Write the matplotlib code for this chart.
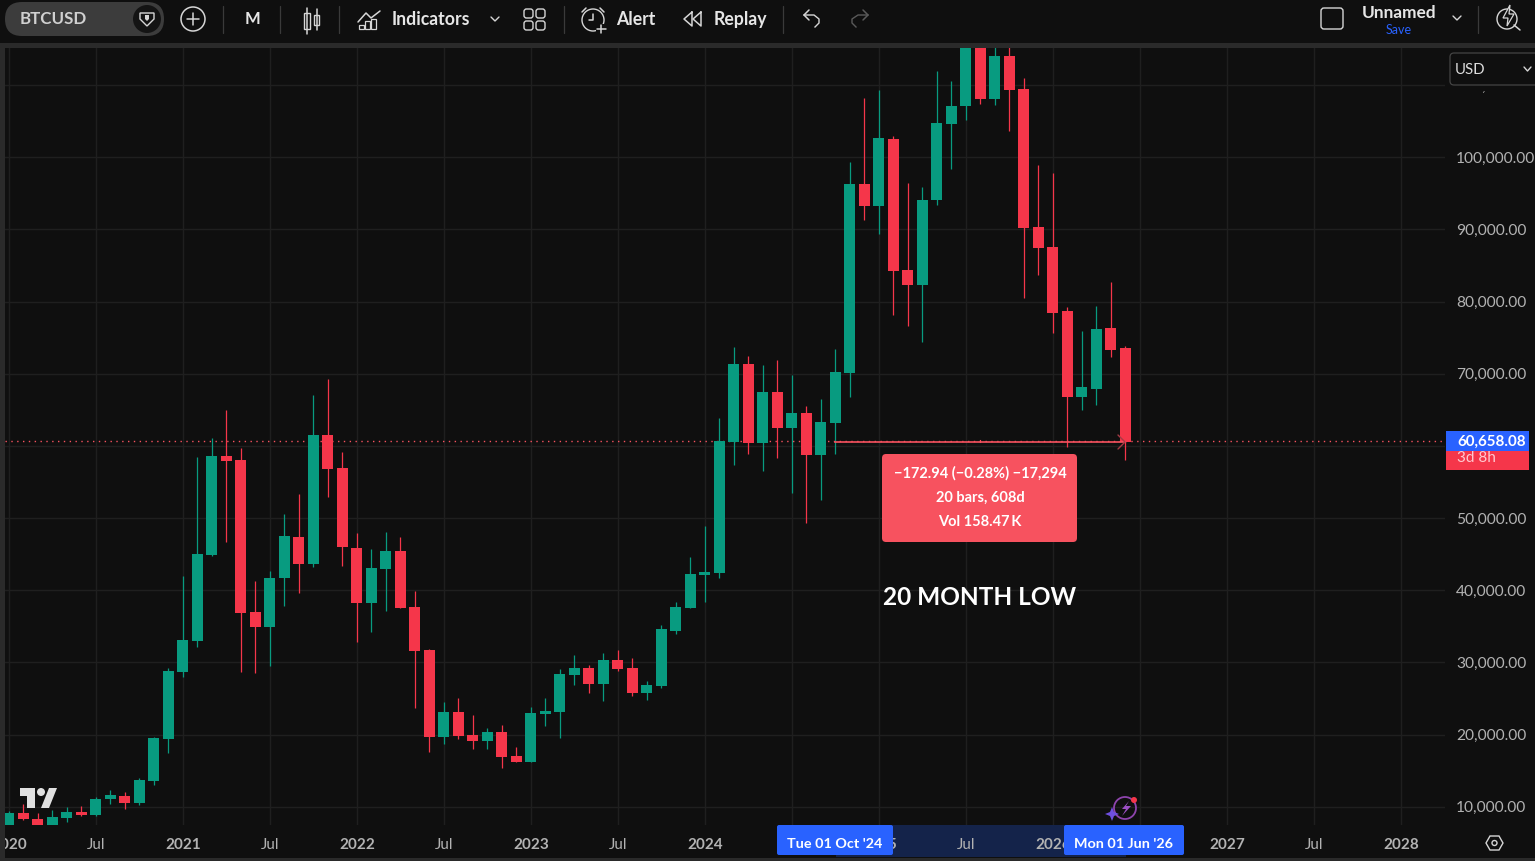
import matplotlib
matplotlib.use("Agg")
import matplotlib.pyplot as plt
from matplotlib.patches import Circle, FancyBboxPatch, Polygon, Rectangle

plt.rcParams['font.family'] = ['Lato', 'DejaVu Sans']

# monthly candles, Jan 2020 -> Jun 2026
opens = [7200, 9164, 8333, 6400, 8471, 9303, 8887, 11103, 11519, 10549, 13597, 19414,
         28694, 32988, 44900, 58612, 58058, 37005, 34927, 41714, 47393, 43653, 61521, 56950,
         45869, 38251, 42961, 45454, 37697, 31741, 19691, 23153, 19968, 19137, 20383, 17057,
         16228, 22876, 23153, 28278, 29248, 27032, 30356, 29248, 25785, 26755, 34373, 37558,
         42129, 42406, 60551, 71355, 60413, 67476, 62490, 64568, 58750, 63183,
         70105, 96284, 93236, 102517, 84372, 82294, 94067, 104594, 107087, 115800, 108057, 114013,
         109442, 90328, 87558, 78692, 66782, 67889, 76338, 73568]
closes = [9164, 8333, 6400, 8610, 9303, 8887, 11103, 11657, 10549, 13735, 19552, 28833,
          33126, 45038, 58612, 57920, 36866, 34927, 41714, 47532, 43653, 61521, 56812, 46008,
          38251, 43100, 45454, 37558, 31602, 19691, 23153, 19829, 19137, 20383, 16920, 16228,
          23015, 23291, 28417, 29248, 27032, 30356, 29109, 25785, 26893, 34650, 37697, 42268,
          42545, 60690, 71355, 60413, 67476, 62490, 64568, 58750, 63321, 70247,
          96284, 93236, 102655, 84233, 82294, 94067, 104733, 107087, 115800, 108057, 114013, 109303,
          90190, 87419, 78416, 66782, 68166, 76199, 73290, 60548]
highs = [9441, 10411, 9164, 9580, 9996, 10134, 11380, 12350, 12073, 14012, 19691, 29248,
         41991, 58474, 61105, 64986, 59720, 41299, 42684, 50579, 53349, 67061, 69277, 59166,
         47947, 45731, 48086, 47393, 39913, 31880, 24538, 25094, 22738, 20937, 21353, 18306,
         23847, 25094, 29109, 31048, 29664, 31325, 31741, 30633, 27447, 35204, 38390, 44622,
         48916, 63875, 73709, 72463, 71216, 71909, 69831, 65537, 66507, 73432,
         99331, 108195, 109304, 102932, 96422, 95868, 111935, 110550, 123200, 124400, 117900, 126200,
         110966, 98915, 97807, 79247, 75923, 79386, 82710, 73845]
lows = [6900, 8194, 3850, 6100, 7917, 8749, 8749, 10411, 9718, 10272, 13042, 17475,
        28001, 32157, 44761, 46700, 28694, 28555, 29526, 37836, 39636, 43238, 52933, 43376,
        32850, 34234, 37143, 37558, 23709, 17613, 18721, 19414, 18030, 18030, 15397, 16228,
        16228, 21215, 19552, 26893, 25785, 24677, 28832, 25370, 24815, 26478, 33957, 37558,
        38390, 41714, 57365, 58889, 56534, 58335, 53487, 49332, 52517, 58889,
        66782, 91297, 89358, 78139, 76615, 74399, 93375, 98361, 105148, 107364, 107226, 103625,
        80493, 83680, 75646, 59855, 64980, 65672, 72322, 58056]

price_ticks = [10000, 20000, 30000, 40000, 50000, 60000, 70000, 80000, 90000, 100000, 110000]
time_ticks = [0, 6, 12, 18, 24, 30, 36, 42, 48, 54, 60, 66, 72, 78, 84, 90, 96]
time_labels = ['2020', 'Jul', '2021', 'Jul', '2022', 'Jul', '2023', 'Jul', '2024', 'Jul', '2025', 'Jul',
               '2026', 'Jul', '2027', 'Jul', '2028']
last_price = 60658.08
measure_price = 60548
measure_start = 57
measure_end = 77

BG = '#0f0f0f'
GRID = '#1f1f1f'
GREEN = '#089b80'
RED = '#f5364a'
BLUE = '#2962ff'
ICON = '#d6d6d6'
W, H = 1535, 861

fig = plt.figure(figsize=(W / 100, H / 100), dpi=100, facecolor=BG)


def px_axes(z):
    a = fig.add_axes([0, 0, 1, 1], zorder=z)
    a.set_xlim(0, W)
    a.set_ylim(H, 0)
    a.axis('off')
    a.patch.set_alpha(0)
    return a


# under the price chart: selected range on the time scale
back = px_axes(0)
back.add_patch(Rectangle((835.5, 825), 290, 32, color='#14234a', lw=0))

ax = fig.add_axes([5 / W, (H - 825) / H, 1440 / W, 777 / H], zorder=1)
ax.set_facecolor(BG)
ax.set_xlim(-0.27, 99.04)
ax.set_ylim(7479, 115125)
for s in ax.spines.values():
    s.set_visible(False)
ax.set_axisbelow(True)
ax.grid(True, color=GRID, lw=1)

months = list(range(len(opens)))
colors = [GREEN if c >= o else RED for o, c in zip(opens, closes)]
ax.vlines(months, lows, highs, colors=colors, lw=0.9, zorder=3)
bottoms = [min(o, c) for o, c in zip(opens, closes)]
heights = [abs(c - o) for o, c in zip(opens, closes)]
ax.bar(months, heights, bottom=bottoms, width=0.76, color=colors, lw=0, zorder=4)

ax.axhline(last_price, color='#f7525f', lw=1, ls=(0, (1, 3.2)), zorder=2)
ax.plot([measure_start, measure_end], [measure_price, measure_price], color='#f7525f', lw=1.2, zorder=5)

ax.yaxis.tick_right()
ax.set_yticks(price_ticks)
ax.set_yticklabels([f'{p:,.2f}' for p in price_ticks], ha='left')
ax.set_xticks(time_ticks)
ax.set_xticklabels(time_labels)
ax.tick_params(axis='y', length=0, pad=8, labelsize=11.2, labelcolor='#b2b2b2')
ax.tick_params(axis='x', length=0, pad=9.5, labelsize=11, labelcolor='#b2b2b2')
for lab in ax.get_xticklabels():
    if lab.get_text() != 'Jul':
        lab.set_fontweight('bold')

# everything on top is placed in screen pixels
ui = px_axes(2)


def box(x, y, w, h, r=0, **kw):
    ui.add_patch(FancyBboxPatch((x + r, y + r), w - 2 * r, h - 2 * r, boxstyle=f'round,pad={r},rounding_size={r}', **kw))


def line(xs, ys, c=ICON, lw=1.1):
    ui.plot(xs, ys, color=c, lw=lw, solid_capstyle='round')


def txt(x, y, s, size=12, c='#e6e6e6', ha='left', **kw):
    ui.text(x, y + 1.5, s, fontsize=size, color=c, ha=ha, va='center', **kw)


# frame bands
ui.add_patch(Rectangle((0, 0), W, 43, color=BG, lw=0))
ui.add_patch(Rectangle((0, 43), W, 5, color='#2a2a2a', lw=0))
ui.add_patch(Rectangle((0, 43), 5, H - 43, color='#2a2a2a', lw=0))
ui.add_patch(Rectangle((0, 858), W, 3, color='#2a2a2a', lw=0))

# symbol pill
box(5, 2, 159, 34, r=17, fc='#3c3c3c', ec='none')
ui.add_patch(Circle((147, 19), 14, fc='#141414', ec='none'))
txt(20, 18, 'BTCUSD', 12.2, '#d0d0d0', fontweight='bold')
ui.add_patch(Polygon([(140, 13), (154, 13), (154, 19), (147, 26), (140, 19)], fc='none', ec=ICON, lw=1))
ui.add_patch(Polygon([(145, 15), (149, 15), (149, 19), (147, 21), (145, 19)], fc=ICON, ec='none'))

# plus
ui.add_patch(Circle((193, 19), 12, fc='none', ec=ICON, lw=1.1))
line([187, 199], [19, 19])
line([193, 193], [13, 25])
for x in [223, 280, 339, 564, 783, 1478]:
    line([x, x], [6, 33], '#3a3a3a', 0.9)

txt(252, 18, 'M', 12, ha='center', fontweight='bold')

# candle icon
ui.add_patch(Rectangle((304, 13), 6, 16, fc='none', ec=ICON, lw=1))
line([307, 307], [8, 34])
ui.add_patch(Rectangle((314, 15), 5, 10, fc='none', ec=ICON, lw=1))
line([316.5, 316.5], [9, 30])

# indicators icon
line([358, 366, 371, 380], [22, 13, 18, 11])
for x, y0 in [(359, 25), (365, 21), (371, 19)]:
    ui.add_patch(Rectangle((x, y0), 5, 29 - y0, fc='none', ec=ICON, lw=0.9))
txt(392, 18, 'Indicators', 12.7, fontweight='bold')
line([491, 495, 499], [17, 21, 17], lw=1)

# layout icon
for x in [524, 536]:
    for y in [9, 21]:
        box(x, y, 9, 9, r=2.5, fc='none', ec=ICON, lw=1)

# alert
ui.add_patch(Circle((593, 20), 11, fc='none', ec=ICON, lw=1))
line([593, 593, 589], [14, 20, 20])
line([582, 586], [12, 8])
line([604, 600], [12, 8])
ui.add_patch(Rectangle((596, 24), 12, 12, color=BG, lw=0))
line([601, 601], [25, 33])
line([597, 606], [29, 29])
txt(616, 18, 'Alert', 12.7, fontweight='bold')

# replay
line([692, 684, 692, 692], [12, 19, 26, 12])
line([701, 693, 701, 701], [12, 19, 26, 12])
txt(714, 18, 'Replay', 12.7, fontweight='bold')

# undo, redo
line([809, 804, 809], [10, 15, 20])
ui.plot([804, 814, 819, 819, 815], [15, 15, 19, 23, 27], color=ICON, lw=1)
line([863, 868, 863], [10, 15, 20], '#5a5a5a')
ui.plot([868, 858, 852, 852, 856], [15, 15, 19, 23, 27], color='#5a5a5a', lw=1)

# right of toolbar
box(1321, 8, 22, 21, r=3, fc='none', ec=ICON, lw=1)
txt(1399, 12, 'Unnamed', 12.4, ha='center', fontweight='bold')
txt(1399, 28, 'Save', 9, BLUE, ha='center')
line([1453, 1457, 1461], [16, 20, 16], lw=1)
ui.add_patch(Circle((1507, 19), 10, fc='none', ec=ICON, lw=1))
ui.add_patch(Polygon([(1510, 5), (1503, 18), (1508, 18), (1507, 26), (1514, 14), (1509, 14)], fc=BG, ec=ICON, lw=0.9))
line([1514, 1520], [25, 30])

# currency select, hides most of the 110,000 label
ui.add_patch(Rectangle((1446, 49), 89, 42, color=BG, lw=0))
box(1450, 53, 90, 32, r=4, fc=BG, ec='#444444', lw=0.9)
txt(1455, 68, 'USD', 10.8, '#dddddd')
line([1524, 1527.5, 1531], [67, 71, 67], lw=1)

# last price label
ui.add_patch(Rectangle((1446, 431), 83, 20, color=BLUE, lw=0))
ui.add_patch(Rectangle((1446, 451), 83, 19, color=RED, lw=0))
txt(1457, 440, f'{last_price:,.2f}', 10.9, 'white', fontweight='bold')
txt(1457, 457, '3d 8h', 11, '#ffc9cf')

# measure tool
line([1118, 1125, 1118], [435, 442, 449], '#a63a45', 1)
line([980, 980], [440, 442], '#f7525f', 0.9)
box(882, 454, 195, 88, r=4, fc='#f7525f', ec='none')
txt(980, 472, '\u2212172.94 (\u22120.28%) \u221217,294', 10.5, 'white', ha='center', fontweight='bold')
txt(980, 496, '20 bars, 608d', 10.5, 'white', ha='center', fontweight='bold')
txt(980, 521, 'Vol 158.47\u2009K', 10.5, 'white', ha='center', fontweight='bold')

txt(980, 596, '20 MONTH LOW', 17.6, 'white', ha='center', fontweight='bold')

# blue date labels
box(777, 825, 116, 30, r=2, fc=BLUE, ec='none')
box(1064, 825, 120, 30, r=2, fc=BLUE, ec='none')
txt(835, 842, "Tue 01 Oct '24", 10.4, 'white', ha='center', fontweight='bold')
txt(1124, 842, "Mon 01 Jun '26", 10.4, 'white', ha='center', fontweight='bold')

# tradingview mark
ui.add_patch(Polygon([(20, 788), (35, 788), (35, 808), (27, 808), (27, 796), (20, 796)], fc='#e0e0e0', ec='none'))
ui.add_patch(Circle((41, 792), 4, fc='#e0e0e0', ec='none'))
ui.add_patch(Polygon([(49, 788), (57, 788), (49, 808), (41, 808)], fc='#e0e0e0', ec='none'))

# purple spark icon
ui.add_patch(Circle((1125, 808), 11, fc='none', ec='#8e44ad', lw=1.3))
ui.add_patch(Polygon([(1129, 801), (1122, 809), (1126, 809), (1122, 816), (1131, 806), (1126, 806)], fc='#9c4fc4', ec='none'))
ui.add_patch(Polygon([(1112, 807), (1114, 812), (1119, 814), (1114, 816), (1112, 821), (1110, 816), (1105, 814), (1110, 812)],
                     fc='#6f4fe0', ec='none'))
ui.add_patch(Circle((1134, 800), 3, fc=RED, ec='none'))

# settings hexagon
ui.add_patch(Polygon([(1486, 843), (1490, 836), (1499, 836), (1503, 843), (1499, 850), (1490, 850)], fc='none', ec=ICON, lw=1))
ui.add_patch(Circle((1494.5, 843), 2.5, fc='none', ec=ICON, lw=1))

fig.savefig('out.png', dpi=100, facecolor=BG)
